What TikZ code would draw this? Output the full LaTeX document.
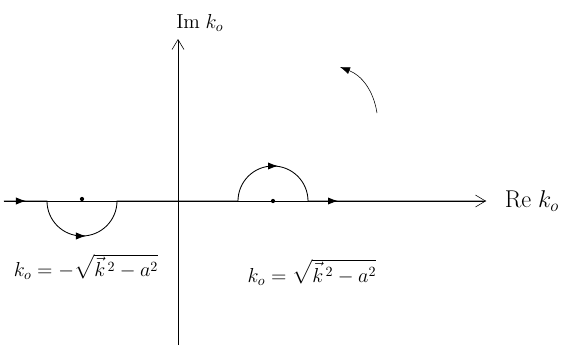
\documentclass[tikz,border=0pt]{standalone}
\usepackage{amsmath}
\usepackage{tikz}
\usetikzlibrary{arrows.meta, positioning, calc}

\begin{document}
\begin{tikzpicture}[
    axis/.style={-{Straight Barb[length=2.5mm,width=3mm]}, thin},
    contour/.style={semithick},
    tip/.style={-{Latex[length=2.5mm,width=1.8mm]}, semithick},
    pole/.style={circle, fill, inner sep=0pt, minimum size=3pt},
    lbl/.style={font=\Large}
]
\useasboundingbox (-4.45,-3.6) rectangle (10.1,5.025);

% poles
\node[pole] (pm) at (-2.4,0.05) {};
\node[pole] (pp) at (2.375,0) {};

% axes
\coordinate (xl) at (-4.35,0);
\coordinate (xr) at (7.7,0);
\coordinate (yb) at (0,-3.6);
\coordinate (yt) at (0,4.05);
\draw[axis] (xl) -- (xr);
\draw[axis] (yb) -- (yt);
\node[font=\LARGE, right=3.5mm of xr] (re) {$\mathrm{Re}\;k_o$};
\node[font=\Large, anchor=west, inner sep=0pt] (im) at (-0.05,4.45) {$\mathrm{Im}\;k_o$};

% contour
\draw[contour] (xl) -- (-3.275,0) arc[start angle=180, end angle=360, radius=0.875]
    -- (1.5,0) arc[start angle=180, end angle=0, radius=0.875] -- (xr);
\draw[tip] (-4.1,0) -- (-3.8,0);
\draw[tip] (-2.55,-0.875) -- (-2.3,-0.875);
\draw[tip] (2.25,0.875) -- (2.5,0.875);
\draw[tip] (3.7,0) -- (4.0,0);

% big arc
\coordinate (ca) at (4.975,2.2);
\coordinate (cb) at (4.05,3.35);
\draw[tip, thin] (ca) to[bend right=30] (cb);

% labels
\node[lbl] (lm) at (-2.3,-1.65) {$k_o=-\sqrt{\vec{k}^{\,2}-a^2}$};
\node[lbl] (lp) at (3.35,-1.78) {$k_o=\sqrt{\vec{k}^{\,2}-a^2}$};

\end{tikzpicture}
\end{document}
